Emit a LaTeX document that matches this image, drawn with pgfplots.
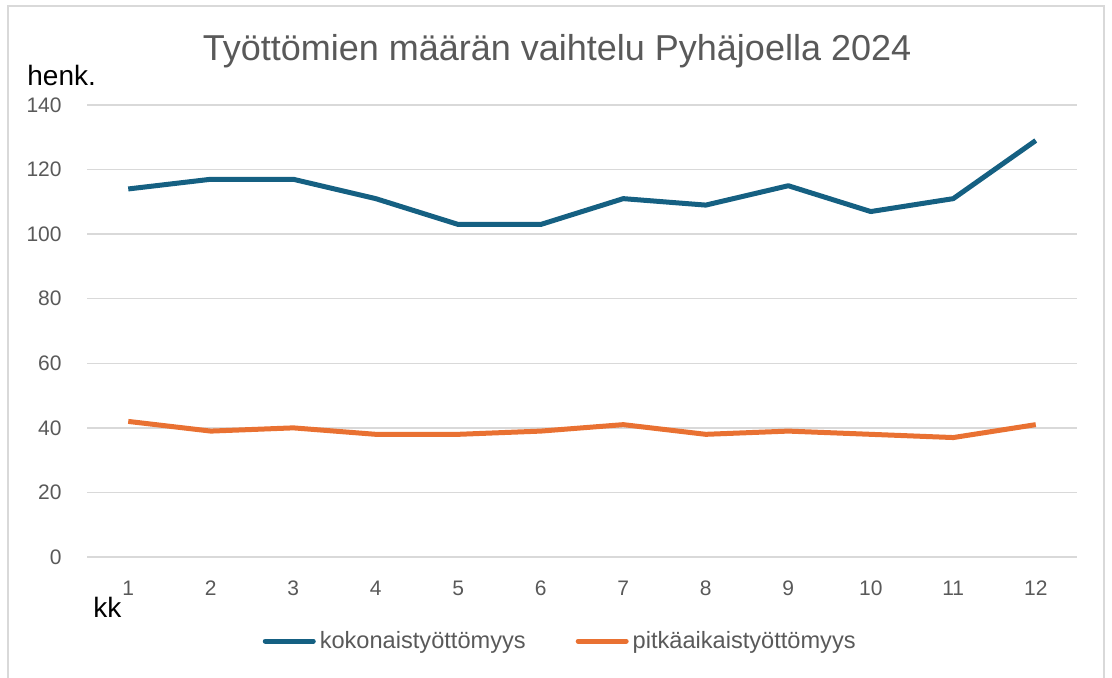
\documentclass[border=0pt]{standalone}
\usepackage{fontspec}
\setmainfont{Liberation Sans}
\usepackage{pgfplots}
\pgfplotsset{compat=1.18}
\definecolor{cblue}{HTML}{156082}
\definecolor{corange}{HTML}{E97132}
\definecolor{cgrid}{HTML}{D9D9D9}
\definecolor{ctext}{HTML}{595959}
\begin{document}
\begin{tikzpicture}[x=1pt,y=1pt]
\useasboundingbox (0,0) rectangle (556,338.5);
\draw[cgrid, line width=0.75pt] (4,-2) -- (4,335.5) -- (552,335.5) -- (552,-2);
\node[ctext, font=\fontsize{18}{21}\selectfont, anchor=base, inner sep=0pt] at (278.5,308.5) {Työttömien määrän vaihtelu Pyhäjoella 2024};
\begin{axis}[
  at={(43.5pt,60pt)}, anchor=south west,
  scale only axis, width=495pt, height=226pt,
  xmin=0.5, xmax=12.5, ymin=0, ymax=140,
  xtick={1,...,12}, ytick={0,20,...,140},
  ymajorgrids, grid style={cgrid, line width=0.75pt},
  axis line style={draw=none}, tick style={draw=none},
  /pgf/number format/assume math mode=true,
  ticklabel style={font=\fontsize{10.5}{12}\selectfont, text=ctext, inner sep=0pt},
  yticklabel style={anchor=east, xshift=-12.5pt},
  xticklabel style={anchor=base, yshift=-19pt},
  clip=false,
  legend style={at={(0.479,-0.186)}, anchor=center, draw=none, fill=none,
    legend columns=2, font=\fontsize{11.8}{13}\selectfont, text=ctext,
    /tikz/every even column/.append style={column sep=23pt},
    inner sep=0pt},
  legend cell align=left,
  legend image code/.code={\draw[#1, line width=2.5pt, line cap=round] (0pt,0pt) -- (24pt,0pt);},
]
\addplot[cblue, line width=2.5pt, line join=round] coordinates {
(1,114) (2,117) (3,117) (4,111) (5,103) (6,103) (7,111) (8,109) (9,115) (10,107) (11,111) (12,129)};
\addlegendentry{kokonaistyöttömyys}
\addplot[corange, line width=2.5pt, line join=round] coordinates {
(1,42) (2,39) (3,40) (4,38) (5,38) (6,39) (7,41) (8,38) (9,39) (10,38) (11,37) (12,41)};
\addlegendentry{pitkäaikaistyöttömyys}
\node[anchor=base west, inner sep=0pt, font=\fontsize{14}{16}\selectfont] at (axis description cs:-0.0606,1.044) {henk.};
\node[anchor=base west, inner sep=0pt, font=\fontsize{14}{16}\selectfont] at (axis description cs:0.006,-0.133) {kk};
\end{axis}
\end{tikzpicture}
\end{document}
